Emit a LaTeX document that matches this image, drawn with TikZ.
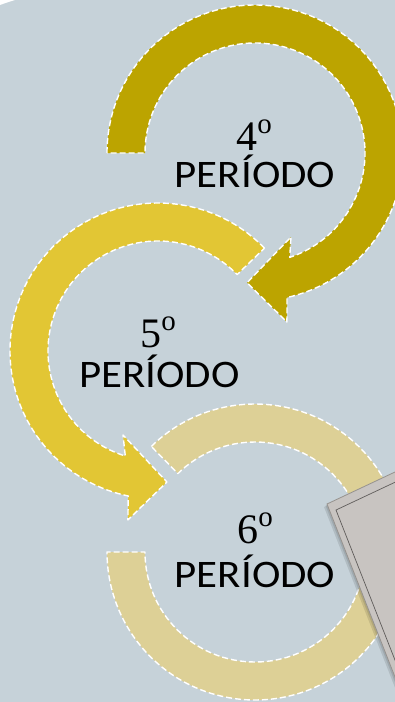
\documentclass[tikz,border=0pt]{standalone}
\usepackage{fontspec}
\usetikzlibrary{calc}
\newfontfamily\perfont{Carlito}
\newfontfamily\numfont{Liberation Serif}
\definecolor{bg}{RGB}{198,210,217}
\definecolor{goldA}{RGB}{188,164,0}
\definecolor{goldB}{RGB}{226,198,52}
\definecolor{goldC}{RGB}{221,208,150}
\definecolor{boxgrey}{RGB}{200,196,193}
\definecolor{boxedge}{RGB}{150,146,142}
\definecolor{boxline}{RGB}{95,92,90}
\begin{document}
\begin{tikzpicture}[x=1pt,y=-1pt,
  arrowshape/.style={draw=white, line width=1.4pt, dash pattern=on 6pt off 3pt, line join=round},
  numstyle/.style={inner sep=0pt, anchor=base, font=\fontsize{42}{42}\numfont},
  perstyle/.style={inner sep=0pt, anchor=base, font=\fontsize{39}{39}\perfont}]
\useasboundingbox (0,0) rectangle (395,702);
\clip (0,0) rectangle (395,702);
\fill[bg] (0,0) rectangle (395,702);
\fill[white] (0,0) -- (15,0) .. controls (10,1.5) and (4,3.5) .. (0,5) -- cycle;
\coordinate (c1) at (255,153);
\coordinate (c2) at (158,351);
\coordinate (c3) at (255,552);
% arrow 3 (6th period)
\filldraw[arrowshape, fill=goldC]
  ($(c3)+(-134.5:148)$) arc[start angle=-134.5, end angle=180, radius=148]
  -- ($(c3)+(180:110)$) arc[start angle=180, end angle=-134.5, radius=110] -- cycle;
% arrow 2 (5th period)
\filldraw[arrowshape, fill=goldB]
  ($(c2)+(-44:148)$) arc[start angle=-44, end angle=-258.4, radius=148]
  -- ($(c2)+(-259.9:171.6)$) -- ($(c2)+(-273.9:131.3)$) -- ($(c2)+(-247.4:91)$)
  -- ($(c2)+(-252.7:110)$) arc[start angle=-252.7, end angle=-44, radius=110] -- cycle;
% arrow 1 (4th period)
\filldraw[arrowshape, fill=goldA]
  ($(c1)+(180:148)$) arc[start angle=180, end angle=437.5, radius=148]
  -- ($(c1)+(79.3:172)$) -- ($(c1)+(93.5:130)$) -- ($(c1)+(66.8:91.4)$)
  -- ($(c1)+(71.6:110)$) arc[start angle=431.6, end angle=180, radius=110] -- cycle;
% texts
\node[numstyle] (n4) at (254,150) {4\raisebox{17pt}{\fontsize{29}{29}\selectfont o}};
\node[perstyle] (p4) at (255,187) {\scalebox{1.1}[1]{PERÍODO}};
\node[numstyle] (n5) at (158,347) {5\raisebox{17pt}{\fontsize{29}{29}\selectfont o}};
\node[perstyle] (p5) at (159.5,387) {\scalebox{1.1}[1]{PERÍODO}};
\node[numstyle] (n6) at (255,543) {6\raisebox{17pt}{\fontsize{29}{29}\selectfont o}};
\node[perstyle] (p6) at (255,587) {\scalebox{1.1}[1]{PERÍODO}};
% grey box
\fill[black, opacity=0.10] (324,507) -- (460,443) -- (596,789) -- (460,853) -- cycle;
\fill[black, opacity=0.10] (325.5,505.5) -- (461.5,441.5) -- (597.5,787.5) -- (461.5,851.5) -- cycle;
\filldraw[fill=boxgrey, draw=boxedge, line width=0.8pt]
  (327,504) -- (463,440) -- (599,786) -- (463,850) -- cycle;
\coordinate (ic) at (336,510);
\draw[boxline, line width=0.7pt] ($(ic)+(136,-64)$) -- (ic) -- ($(ic)+(136,346)$);
\end{tikzpicture}
\end{document}
